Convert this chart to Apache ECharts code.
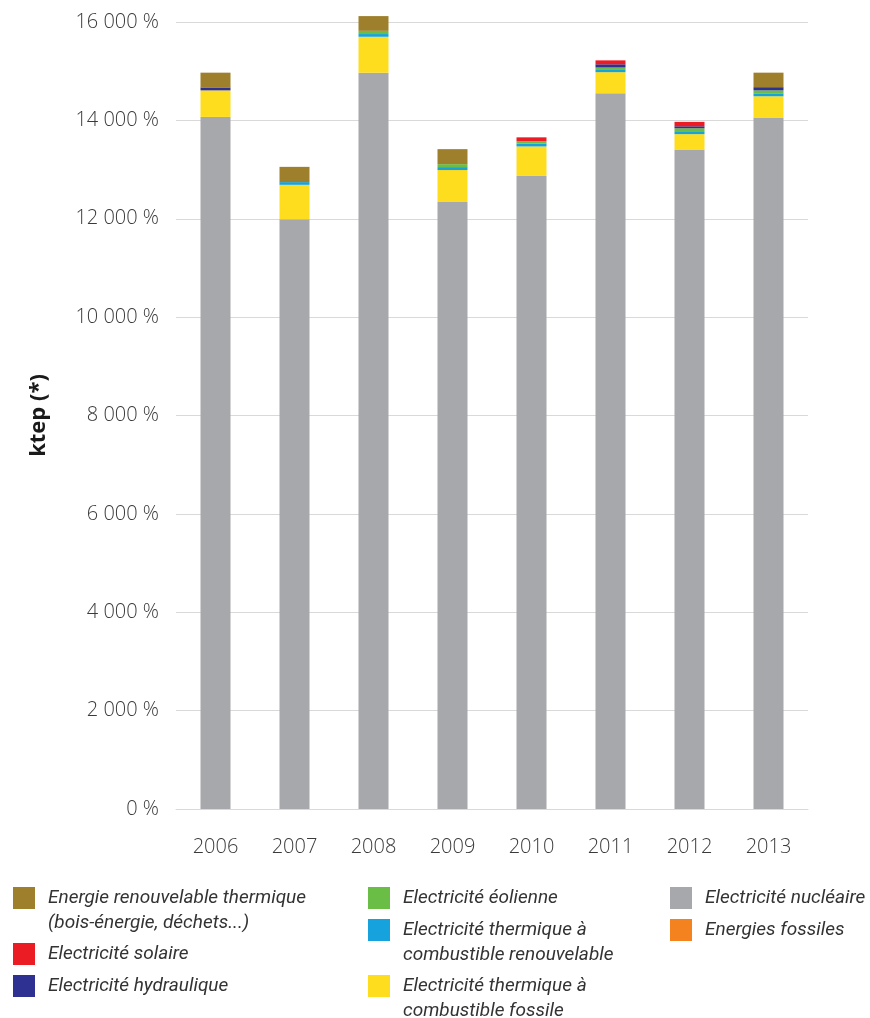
<!DOCTYPE html>
<html>
<head>
<meta charset="utf-8">
<script src="https://cdn.jsdelivr.net/npm/echarts@6/dist/echarts.min.js"></script>
<style>
  html, body { margin: 0; padding: 0; background: #fff; }
  #chart { width: 870px; height: 1018px; }
</style>
</head>
<body>
<div id="chart"></div>
<script>
// Years on the horizontal axis
const years = ['2006', '2007', '2008', '2009', '2010', '2011', '2012', '2013'];

// Stacked components (ktep), bottom to top
const nucleaire      = [14070, 11990, 14970, 12340, 12870, 14550, 13410, 14060];
const thermFossile   = [540, 700, 730, 650, 600, 430, 310, 430];
const thermRenouv    = [0, 55, 55, 60, 60, 60, 60, 60];
const eolienne       = [0, 0, 65, 60, 45, 35, 60, 60];
const hydraulique    = [60, 0, 0, 0, 0, 65, 40, 65];
const solaire        = [0, 0, 0, 0, 80, 80, 90, 0];
const enrThermique   = [300, 310, 300, 305, 0, 0, 0, 295];
const fossiles       = [0, 0, 0, 0, 0, 0, 0, 0];

// Value axis ticks
const yMin = 0, yMax = 16000, yStep = 2000;

const NAMES = {
  enr: 'Energie renouvelable thermique\n(bois-énergie, déchets...)',
  sol: 'Electricité solaire',
  hyd: 'Electricité hydraulique',
  eol: 'Electricité éolienne',
  tren: 'Electricité thermique à\ncombustible renouvelable',
  tfos: 'Electricité thermique à\ncombustible fossile',
  nuc: 'Electricité nucléaire',
  fos: 'Energies fossiles'
};

const COLORS = {
  enr: '#9E7F2B', sol: '#EC1C24', hyd: '#2E3192', eol: '#6ABD45',
  tren: '#16A2DC', tfos: '#FEDD1F', nuc: '#A7A8AB', fos: '#F4821F'
};

function fmtThousands(v) {
  return String(v).replace(/\B(?=(\d{3})+(?!\d))/g, ' ') + ' %';
}

const LH = 25;
const ICON = 22;
const legendFont = {
  fontFamily: '"Roboto", sans-serif',
  fontStyle: 'italic',
  fontSize: 19,
  color: '#333',
  lineHeight: LH,
  padding: [0, 0, 0, 8]
};

// One legend block per entry; two-line names get an empty leading line so
// that the icon lines up with the first line of text
function legendEntry(key, left, iconTop, twoLines) {
  return {
    show: true,
    orient: 'vertical',
    left: left,
    top: iconTop - (twoLines ? (LH * 3 - ICON) / 2 : (LH - ICON) / 2),
    padding: 0,
    itemWidth: ICON,
    itemHeight: ICON,
    icon: 'rect',
    selectedMode: false,
    data: [NAMES[key]],
    formatter: twoLines ? (n) => '\n' + n : (n) => n,
    textStyle: legendFont
  };
}

function bar(key, data) {
  return {
    name: NAMES[key],
    type: 'bar',
    stack: 'total',
    barWidth: 30,
    clip: false,
    data: data,
    itemStyle: { color: COLORS[key] },
    emphasis: { disabled: true }
  };
}

const chart = echarts.init(document.getElementById('chart'), null, { renderer: 'canvas' });

chart.setOption({
  animation: false,
  backgroundColor: '#ffffff',
  color: Object.values(COLORS),
  grid: { left: 176, right: 62, top: 22, bottom: 209, containLabel: false },
  legend: [
    legendEntry('enr', 13, 887, true),
    legendEntry('sol', 13, 943, false),
    legendEntry('hyd', 13, 975, false),
    legendEntry('eol', 368, 887, false),
    legendEntry('tren', 368, 919, true),
    legendEntry('tfos', 368, 975, true),
    legendEntry('nuc', 670, 887, false),
    legendEntry('fos', 670, 919, false)
  ],
  xAxis: {
    type: 'category',
    data: years,
    axisLine: { show: true, lineStyle: { color: '#d9d9d9', width: 1 } },
    axisTick: { show: false },
    axisLabel: {
      margin: 28,
      fontFamily: '"Open Sans", sans-serif',
      fontWeight: 300,
      fontSize: 20,
      color: '#3a3a3a'
    }
  },
  yAxis: {
    type: 'value',
    min: yMin,
    max: yMax,
    interval: yStep,
    name: 'ktep (*)',
    nameLocation: 'middle',
    nameGap: 126,
    nameRotate: 90,
    nameTextStyle: {
      fontFamily: '"Open Sans", sans-serif',
      fontWeight: 'bold',
      fontSize: 22,
      color: '#1a1a1a'
    },
    axisLine: { show: false },
    axisTick: { show: false },
    splitLine: { lineStyle: { color: '#d9d9d9', width: 1 } },
    axisLabel: {
      margin: 17,
      formatter: fmtThousands,
      fontFamily: '"Open Sans", sans-serif',
      fontWeight: 300,
      fontSize: 20,
      color: '#3a3a3a'
    }
  },
  series: [
    bar('nuc', nucleaire),
    bar('tfos', thermFossile),
    bar('tren', thermRenouv),
    bar('eol', eolienne),
    bar('hyd', hydraulique),
    bar('sol', solaire),
    bar('enr', enrThermique),
    bar('fos', fossiles)
  ]
});
</script>
</body>
</html>
